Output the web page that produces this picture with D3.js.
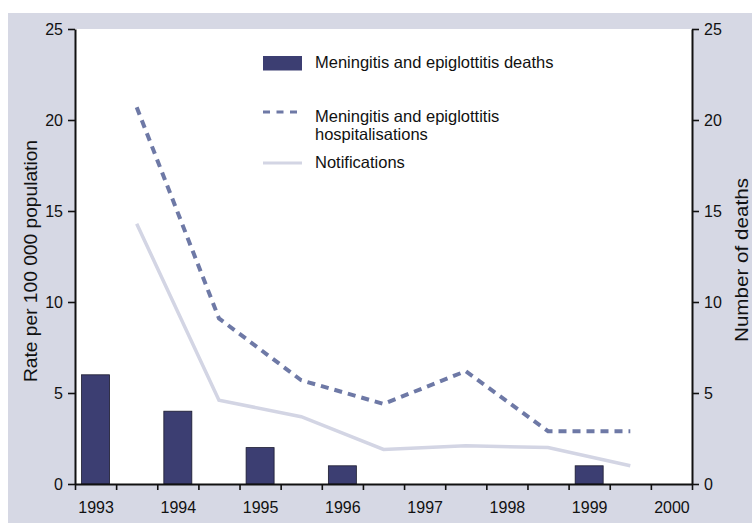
<!DOCTYPE html>
<html>
<head>
<meta charset="utf-8">
<script src="https://cdn.jsdelivr.net/npm/d3@7"></script>
<style>
  body { margin: 0; background: #fff; }
  text { font-family: "Liberation Sans", Arial, sans-serif; fill: #111; }
</style>
</head>
<body>
<svg id="chart" width="752" height="528"></svg>
<script>
// years shown on the axis
var years = [1993, 1994, 1995, 1996, 1997, 1998, 1999, 2000];
// deaths per calendar year (right axis)
var deathYears = [1993, 1994, 1995, 1996, 1997, 1998, 1999];
var deaths = [6, 4, 2, 1, 0, 0, 1];
// rates are for financial years, plotted between the calendar years
var periodMid = [1993.5, 1994.5, 1995.5, 1996.5, 1997.5, 1998.5, 1999.5];
var hospitalisations = [20.7, 9.1, 5.7, 4.4, 6.2, 2.9, 2.9];
var notifications = [14.3, 4.6, 3.7, 1.9, 2.1, 2.0, 1.0];
var rateTicks = [0, 5, 10, 15, 20, 25];

var svg = d3.select("#chart");
var mLeft = 75, mRight = 692, mTop = 29, mBottom = 484;

// grey panel + white plot area
svg.append("rect").attr("x", 8).attr("y", 13).attr("width", 744).attr("height", 510).attr("fill", "#d6d8e4");
svg.append("rect").attr("x", mLeft).attr("y", mTop).attr("width", mRight - mLeft).attr("height", mBottom - mTop).attr("fill", "#fff");

var x = d3.scaleLinear().domain([1992.75, 2000.25]).range([mLeft, mRight]);
var y = d3.scaleLinear().domain([0, 25]).range([mBottom, mTop]);
var yRight = d3.scaleLinear().domain([0, 25]).range([mBottom, mTop]);

// bars
svg.selectAll("rect.bar")
    .data(deaths)
    .enter()
    .append("rect")
    .attr("class", "bar")
    .attr("x", function (d, i) { return x(deathYears[i]) - 14; })
    .attr("width", 28)
    .attr("y", function (d) { return yRight(d); })
    .attr("height", function (d) { return mBottom - yRight(d); })
    .attr("fill", "#3c3e72")
    .attr("stroke", "#1a1a2e")
    .attr("stroke-width", 0.8);

var line = d3.line()
    .x(function (d, i) { return x(periodMid[i]); })
    .y(function (d) { return y(d); });

svg.append("path")
    .datum(notifications)
    .attr("d", line)
    .attr("fill", "none")
    .attr("stroke", "#d3d5e4")
    .attr("stroke-width", 3.5);

svg.append("path")
    .datum(hospitalisations)
    .attr("d", line)
    .attr("fill", "none")
    .attr("stroke", "#6e79a6")
    .attr("stroke-width", 4)
    .attr("stroke-dasharray", "8,6");

// axes
var halfTicks = d3.range(0, 16).map(function (k) { return 1992.75 + k * 0.5; });
var xAxis = svg.append("g")
    .attr("transform", "translate(0," + mBottom + ")")
    .call(d3.axisBottom(x).tickValues(halfTicks).tickFormat("").tickSize(6).tickSizeOuter(0));
var xLabels = svg.append("g")
    .attr("transform", "translate(0," + mBottom + ")")
    .call(d3.axisBottom(x).tickValues(years).tickFormat(d3.format("d")).tickSize(0).tickPadding(18));
xLabels.select(".domain").remove();

var yAxis = svg.append("g")
    .attr("transform", "translate(" + mLeft + ",0)")
    .call(d3.axisLeft(y).tickValues(rateTicks).tickSize(7).tickSizeOuter(0).tickPadding(5));
var yAxisR = svg.append("g")
    .attr("transform", "translate(" + mRight + ",0)")
    .call(d3.axisRight(yRight).tickValues(rateTicks).tickSize(7).tickSizeOuter(0).tickPadding(5));

[xAxis, xLabels, yAxis, yAxisR].forEach(function (g) {
    g.selectAll("text").attr("font-size", "16px").attr("font-family", "Liberation Sans, Arial, sans-serif").attr("fill", "#111");
    g.selectAll("line").attr("stroke", "#111").attr("stroke-width", 1.6);
    g.select(".domain").attr("stroke", "#111").attr("stroke-width", 2);
});

// axis titles
svg.append("text")
    .attr("transform", "translate(37,261) rotate(-90)")
    .attr("text-anchor", "middle")
    .attr("font-size", "18px")
    .attr("textLength", 242)
    .attr("lengthAdjust", "spacingAndGlyphs")
    .text("Rate per 100 000 population");
svg.append("text")
    .attr("transform", "translate(748,260) rotate(-90)")
    .attr("text-anchor", "middle")
    .attr("font-size", "19px")
    .attr("textLength", 164)
    .attr("lengthAdjust", "spacingAndGlyphs")
    .text("Number of deaths");

// legend
var lg = svg.append("g");
lg.append("rect").attr("x", 263).attr("y", 56).attr("width", 39).attr("height", 14.5).attr("fill", "#3c3e72");
lg.append("line").attr("x1", 263).attr("x2", 302).attr("y1", 112).attr("y2", 112)
    .attr("stroke", "#6e79a6").attr("stroke-width", 3).attr("stroke-dasharray", "7,6.5");
lg.append("line").attr("x1", 263).attr("x2", 302).attr("y1", 163).attr("y2", 163)
    .attr("stroke", "#d3d5e4").attr("stroke-width", 3);
var legendText = [
    ["Meningitis and epiglottitis deaths", 68],
    ["Meningitis and epiglottitis", 122],
    ["hospitalisations", 140],
    ["Notifications", 168]
];
legendText.forEach(function (t) {
    lg.append("text").attr("x", 315).attr("y", t[1]).attr("font-size", "16.5px").text(t[0]);
});
</script>
</body>
</html>
